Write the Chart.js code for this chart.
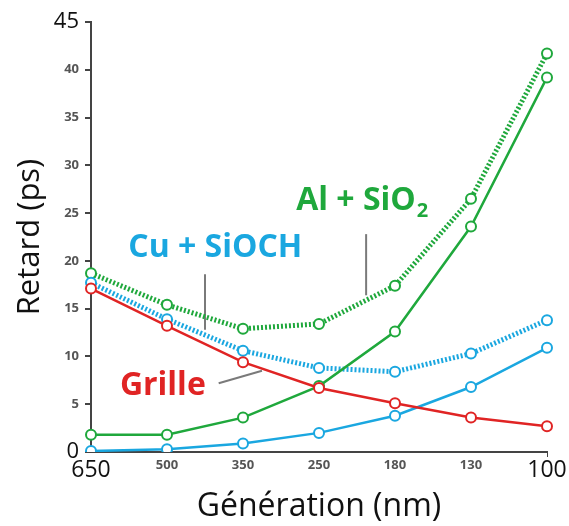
<!DOCTYPE html>
<html>
<head>
<meta charset="utf-8">
<script src="https://cdn.jsdelivr.net/npm/chart.js@4.4.1/dist/chart.umd.min.js"></script>
<style>
  html, body { margin: 0; padding: 0; background: #fff; }
  #wrap { width: 569px; height: 526px; }
</style>
</head>
<body>
<div id="wrap"><canvas id="retardChart" width="569" height="526"></canvas></div>
<script>
// generations (nm)
var generations = ['650', '500', '350', '250', '180', '130', '100'];
var yTicks = [0, 5, 10, 15, 20, 25, 30, 35, 40, 45];

// delays (ps)
var alSio2Line = [1.8, 1.8, 3.6, 6.9, 12.6, 23.6, 39.2];
var alSio2Total = [18.7, 15.4, 12.9, 13.4, 17.4, 26.5, 41.7];
var cuSiochTotal = [17.7, 13.9, 10.6, 8.8, 8.4, 10.3, 13.8];
var cuSiochLine = [0.1, 0.3, 0.9, 2.0, 3.8, 6.8, 10.9];
var grille = [17.1, 13.2, 9.4, 6.7, 5.1, 3.6, 2.7];

var GREEN = '#1fa83c';
var CYAN = '#1aa7e0';
var RED = '#e02424';
var FONT = '"Open Sans", sans-serif';

function series(data, color, dotted) {
    return {
        data: data,
        borderColor: color,
        borderWidth: dotted ? 5 : 2.5,
        borderDash: dotted ? [2, 2] : [],
        borderCapStyle: 'butt',
        pointRadius: 5,
        pointBorderWidth: 2,
        pointBorderColor: color,
        pointBackgroundColor: '#fff',
        tension: 0,
        fill: false
    };
}

// text labels with leader lines, placed in data coordinates
var notes = [
    { text: 'Al + SiO', sub: '2', color: GREEN, at: [2.70, 25.3], line: [[3.62, 22.8], [3.62, 16.4]] },
    { text: 'Cu + SiOCH', sub: '', color: CYAN, at: [0.49, 20.4], line: [[1.50, 18.6], [1.50, 12.8]] },
    { text: 'Grille', sub: '', color: RED, at: [0.38, 6.0], line: [[1.68, 7.2], [2.25, 8.5]] }
];

var notesPlugin = {
    id: 'notes',
    beforeDatasetsDraw: function(chart) {
        var c = chart.ctx, x = chart.scales.x, y = chart.scales.y;
        c.save();
        c.strokeStyle = '#7a7a7a';
        c.lineWidth = 2;
        notes.forEach(function(n) {
            c.beginPath();
            c.moveTo(x.getPixelForValue(n.line[0][0]), y.getPixelForValue(n.line[0][1]));
            c.lineTo(x.getPixelForValue(n.line[1][0]), y.getPixelForValue(n.line[1][1]));
            c.stroke();
        });
        c.restore();
    },
    afterDatasetsDraw: function(chart) {
        var c = chart.ctx, x = chart.scales.x, y = chart.scales.y;
        c.save();
        c.textBaseline = 'alphabetic';
        c.textAlign = 'left';
        notes.forEach(function(n) {
            var px = x.getPixelForValue(n.at[0]), py = y.getPixelForValue(n.at[1]);
            c.fillStyle = n.color;
            c.font = 'bold 32px ' + FONT;
            c.fillText(n.text, px, py);
            if (n.sub) {
                var w = c.measureText(n.text).width;
                c.font = 'bold 20px ' + FONT;
                c.fillText(n.sub, px + w + 1, py + 7);
            }
        });
        c.restore();
    }
};

var ctx = document.getElementById('retardChart').getContext('2d');
var retardChart = new Chart(ctx, {
    type: 'line',
    data: {
        labels: generations,
        datasets: [
            series(grille, RED, false),
            series(cuSiochLine, CYAN, false),
            series(alSio2Line, GREEN, false),
            series(cuSiochTotal, CYAN, true),
            series(alSio2Total, GREEN, true)
        ]
    },
    options: {
        responsive: false,
        animation: false,
        devicePixelRatio: 1,
        layout: { padding: { top: 22, right: 22, left: 12, bottom: 0 } },
        plugins: { legend: { display: false }, tooltip: { enabled: false } },
        scales: {
            x: {
                type: 'category',
                offset: false,
                afterFit: function(s) { s.height = 74; },
                border: { color: '#444', width: 2 },
                grid: {
                    drawOnChartArea: false,
                    tickLength: 5,
                    color: function(c) { return c.index === generations.length - 1 ? '#444' : 'rgba(0,0,0,0)'; }
                },
                ticks: {
                    autoSkip: false,
                    maxRotation: 0,
                    padding: 0,
                    color: function(c) { return (c.index === 0 || c.index === generations.length - 1) ? '#111' : '#555'; },
                    font: function(c) {
                        var big = c.index === 0 || c.index === generations.length - 1;
                        return big ? { family: FONT, size: 23 } : { family: FONT, size: 13, weight: 'bold' };
                    }
                },
                title: {
                    display: true,
                    text: 'Génération (nm)',
                    color: '#111',
                    font: { family: FONT, size: 32 },
                    padding: { top: 0, bottom: 0 }
                }
            },
            y: {
                min: 0,
                max: 45,
                afterFit: function(s) { s.width = 79; },
                afterBuildTicks: function(s) { s.ticks = yTicks.map(function(v) { return { value: v }; }); },
                border: { color: '#444', width: 2 },
                grid: { drawOnChartArea: false, tickLength: 6, color: '#444', lineWidth: 2 },
                ticks: {
                    padding: 6,
                    color: function(c) { return (c.tick.value === 0 || c.tick.value === 45) ? '#111' : '#555'; },
                    font: function(c) {
                        var big = c.tick && (c.tick.value === 0 || c.tick.value === 45);
                        return big ? { family: FONT, size: 22 } : { family: FONT, size: 13, weight: 'bold' };
                    }
                },
                title: {
                    display: true,
                    text: 'Retard (ps)',
                    color: '#111',
                    font: { family: FONT, size: 31 },
                    padding: { top: 0, bottom: 0 }
                }
            }
        }
    },
    plugins: [notesPlugin]
});
</script>
</body>
</html>
